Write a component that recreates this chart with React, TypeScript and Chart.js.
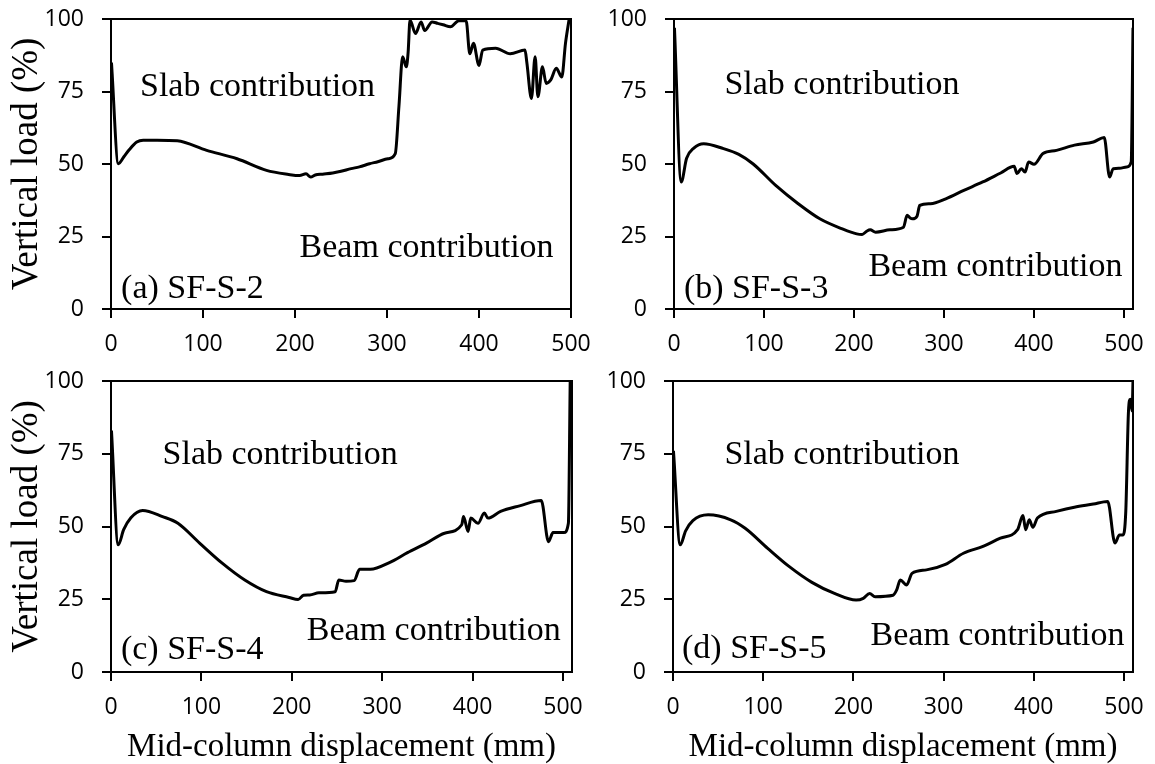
import React, { useEffect, useRef } from 'react';
import { Chart, registerables } from 'chart.js';

Chart.register(...registerables);

// ---------- data ----------
const aX = [0.5, 8, 14, 20, 28, 35, 50, 72, 104, 137, 169, 193, 205, 212, 217, 222, 230, 241, 250, 261, 270, 281, 290, 301, 309, 313, 317, 321, 323, 325, 331, 337, 341, 349, 355, 361, 369, 378, 386, 390, 394, 400, 404, 418, 434, 450, 452, 457, 461, 464, 469, 473, 478, 484, 490, 494, 498];
const aY = [85, 50.1, 52.5, 55, 57.6, 58.2, 58.2, 58, 54.7, 51.8, 47.8, 46.4, 46, 46.6, 45.5, 46.2, 46.5, 46.9, 47.5, 48.4, 49, 50.1, 50.8, 51.8, 53.6, 70, 87, 83.5, 88.7, 99.6, 95, 99, 96, 99, 98.5, 98, 97.3, 99.4, 99.4, 88, 91.6, 84, 89.3, 89.9, 88, 89.3, 85, 72.6, 87, 73.2, 83.5, 77.8, 79, 83, 80, 91.6, 100];

const bX = [0.5, 8, 14, 22, 33, 55, 72, 88, 113, 138, 162, 187, 203, 209, 214, 218, 224, 240, 255, 259, 262, 265, 270, 273, 285, 302, 322, 343, 363, 378, 381, 386, 390, 394, 400, 410, 425, 445, 466, 478, 484, 488, 495, 503, 508, 510];
const bY = [97, 43.8, 52, 55.5, 57, 55.3, 53.3, 50, 42.6, 36.3, 31.1, 27.6, 25.9, 25.7, 26.8, 27.3, 26.5, 27.3, 28.2, 32.3, 31.5, 31.1, 32, 35.7, 36.3, 38, 40.9, 43.8, 46.9, 49.2, 46.7, 48.4, 47.2, 50.7, 49.9, 53.6, 54.7, 56.5, 57.6, 59.1, 45.5, 48.4, 48.5, 49, 50.7, 97];

const cX = [0.5, 8, 14, 22, 35, 57, 74, 98, 123, 148, 172, 197, 207, 213, 220, 230, 248, 252, 260, 269, 275, 287, 308, 328, 349, 369, 388, 390, 395, 398, 406, 413, 417, 431, 452, 476, 484, 489, 501, 506, 508];
const cY = [83, 43.7, 48.9, 53, 55.5, 53.4, 51.1, 44.3, 37.4, 31.6, 27.6, 25.6, 24.9, 26.4, 26.5, 27.2, 27.6, 31.6, 31.2, 31.4, 35.3, 35.3, 37.6, 41, 44.3, 47.7, 50.6, 53.4, 48.3, 52.9, 51.1, 54.6, 52.9, 55.2, 57.1, 58.9, 44.8, 47.9, 47.9, 51.1, 100];

const dX = [0.5, 8, 14, 22, 39, 64, 80, 105, 129, 154, 179, 203, 211, 218, 224, 244, 248, 252, 259, 265, 281, 302, 322, 343, 363, 382, 388, 391, 395, 399, 404, 425, 445, 466, 482, 490, 495, 499, 502, 505, 507, 509, 510];
const dY = [76, 43.7, 48.5, 52, 54, 52.3, 49.4, 42.5, 36.2, 30.8, 27, 24.7, 25.3, 27, 25.9, 26.4, 28.2, 31.6, 29.9, 33.9, 35.1, 37, 40.8, 43.1, 46, 48.9, 53.8, 48.9, 52.3, 49.7, 52.9, 55.2, 56.6, 57.7, 58.6, 44.3, 47.1, 47.1, 55.2, 89.7, 93.7, 89.7, 100];

const xTickValues = [0, 100, 200, 300, 400, 500];
const yTickValues = [0, 25, 50, 75, 100];

const panelLabels = ['(a) SF-S-2', '(b) SF-S-3', '(c) SF-S-4', '(d) SF-S-5'];
const slabText = 'Slab contribution';
const beamText = 'Beam contribution';
const yTitleText = 'Vertical load (%)';
const xTitleText = 'Mid-column displacement (mm)';

// ---------- layout ----------
const W = 1155;
const H = 764;
const SERIF = '"Liberation Serif", "Times New Roman", serif';
const SANS = '"Open Sans", "Noto Sans", sans-serif';

type Panel = {
  xs: number[];
  ys: number[];
  xMax: number;
  area: { left: number; top: number; right: number; bottom: number };
  yTitle: boolean;
  xTitle: boolean;
  label: string;
  labelAt: [number, number];
  slabAt: [number, number];
  beamAt: [number, number];
};

const panels: Panel[] = [
  { xs: aX, ys: aY, xMax: 500, area: { left: 111, top: 19, right: 571, bottom: 309 }, yTitle: true, xTitle: false, label: panelLabels[0], labelAt: [11, 7.0], slabAt: [31.5, 76.6], beamAt: [205, 21.0] },
  { xs: bX, ys: bY, xMax: 510, area: { left: 674, top: 19, right: 1133, bottom: 309 }, yTitle: false, xTitle: false, label: panelLabels[1], labelAt: [11, 7.0], slabAt: [56, 77.2], beamAt: [216, 14.3] },
  { xs: cX, ys: cY, xMax: 510, area: { left: 111, top: 381, right: 572, bottom: 672 }, yTitle: true, xTitle: true, label: panelLabels[2], labelAt: [11, 7.4], slabAt: [57, 74.6], beamAt: [216.6, 14.2] },
  { xs: dX, ys: dY, xMax: 510, area: { left: 673, top: 381, right: 1133, bottom: 672 }, yTitle: false, xTitle: true, label: panelLabels[3], labelAt: [10, 8.0], slabAt: [57, 74.6], beamAt: [219, 12.5] },
];

function PanelChart({ p }: { p: Panel }) {
  const ref = useRef<HTMLCanvasElement>(null);

  useEffect(() => {
    if (!ref.current) return;
    const yW = p.yTitle ? p.area.left : 90;
    const padLeft = p.area.left - yW;
    const xH = p.xTitle ? H - p.area.bottom : 60;
    const padBottom = H - p.area.bottom - xH;

    const framePlugin = {
      id: 'frame',
      afterDraw(chart: any) {
        const { ctx, chartArea } = chart;
        ctx.save();
        ctx.strokeStyle = '#000';
        ctx.lineWidth = 2;
        ctx.strokeRect(chartArea.left, chartArea.top, chartArea.right - chartArea.left, chartArea.bottom - chartArea.top);
        ctx.restore();
      },
    };

    const textPlugin = {
      id: 'annot',
      afterDraw(chart: any) {
        const { ctx } = chart;
        const xs = chart.scales.x;
        const ys = chart.scales.y;
        const items: [string, [number, number]][] = [
          [slabText, p.slabAt],
          [beamText, p.beamAt],
          [p.label, p.labelAt],
        ];
        ctx.save();
        ctx.font = `34px ${SERIF}`;
        ctx.fillStyle = '#000';
        ctx.textAlign = 'left';
        ctx.textBaseline = 'middle';
        for (const [t, at] of items) {
          ctx.fillText(t, xs.getPixelForValue(at[0]), ys.getPixelForValue(at[1]));
        }
        ctx.restore();
      },
    };

    const chart = new Chart(ref.current, {
      type: 'line',
      data: {
        datasets: [
          {
            data: p.xs.map((x, i) => ({ x, y: p.ys[i] })),
            borderColor: '#000',
            borderWidth: 3,
            pointRadius: 0,
            fill: false,
            cubicInterpolationMode: 'monotone',
          } as any,
        ],
      },
      options: {
        responsive: false,
        animation: false,
        devicePixelRatio: 1,
        events: [],
        layout: { padding: { left: padLeft, top: p.area.top, right: W - p.area.right, bottom: padBottom } },
        plugins: { legend: { display: false }, tooltip: { enabled: false } },
        scales: {
          x: {
            type: 'linear',
            min: 0,
            max: p.xMax,
            ticks: { autoSkip: false, maxRotation: 0, color: '#000', padding: 13, font: { family: SANS, size: 23 } },
            afterBuildTicks: (s: any) => {
              s.ticks = xTickValues.map((v) => ({ value: v }));
            },
            grid: { drawOnChartArea: false, drawTicks: true, tickLength: 9, color: '#000', lineWidth: 2 },
            border: { display: true, color: '#000', width: 2 },
            title: { display: p.xTitle, text: xTitleText, color: '#000', font: { family: SERIF, size: 33, lineHeight: 1 }, padding: { top: 0, bottom: 0 } },
            afterFit: (s: any) => {
              s.height = xH;
              s.paddingLeft = 0;
              s.paddingRight = 0;
              s.paddingTop = 0;
              s.paddingBottom = 0;
            },
          },
          y: {
            type: 'linear',
            min: 0,
            max: 100,
            ticks: { autoSkip: false, color: '#000', padding: 18, font: { family: SANS, size: 23 } },
            afterBuildTicks: (s: any) => {
              s.ticks = yTickValues.map((v) => ({ value: v }));
            },
            grid: { drawOnChartArea: false, drawTicks: true, tickLength: 9, color: '#000', lineWidth: 2 },
            border: { display: true, color: '#000', width: 2 },
            title: { display: p.yTitle, text: yTitleText, color: '#000', font: { family: SERIF, size: 37, lineHeight: 1 }, padding: { top: 9, bottom: 0 } },
            afterFit: (s: any) => {
              s.width = yW;
              s.paddingLeft = 0;
              s.paddingRight = 0;
              s.paddingTop = 0;
              s.paddingBottom = 0;
            },
          },
        },
      } as any,
      plugins: [framePlugin, textPlugin],
    });
    return () => chart.destroy();
  }, [p]);

  return (
    <canvas
      ref={ref}
      width={W}
      height={H}
      style={{ position: 'absolute', left: 0, top: 0, width: W, height: H }}
    />
  );
}

export default function App() {
  return (
    <div style={{ position: 'absolute', left: 0, top: 0, width: W, height: H, background: '#fff', overflow: 'hidden' }}>
      {panels.map((p, i) => (
        <PanelChart key={i} p={p} />
      ))}
    </div>
  );
}
